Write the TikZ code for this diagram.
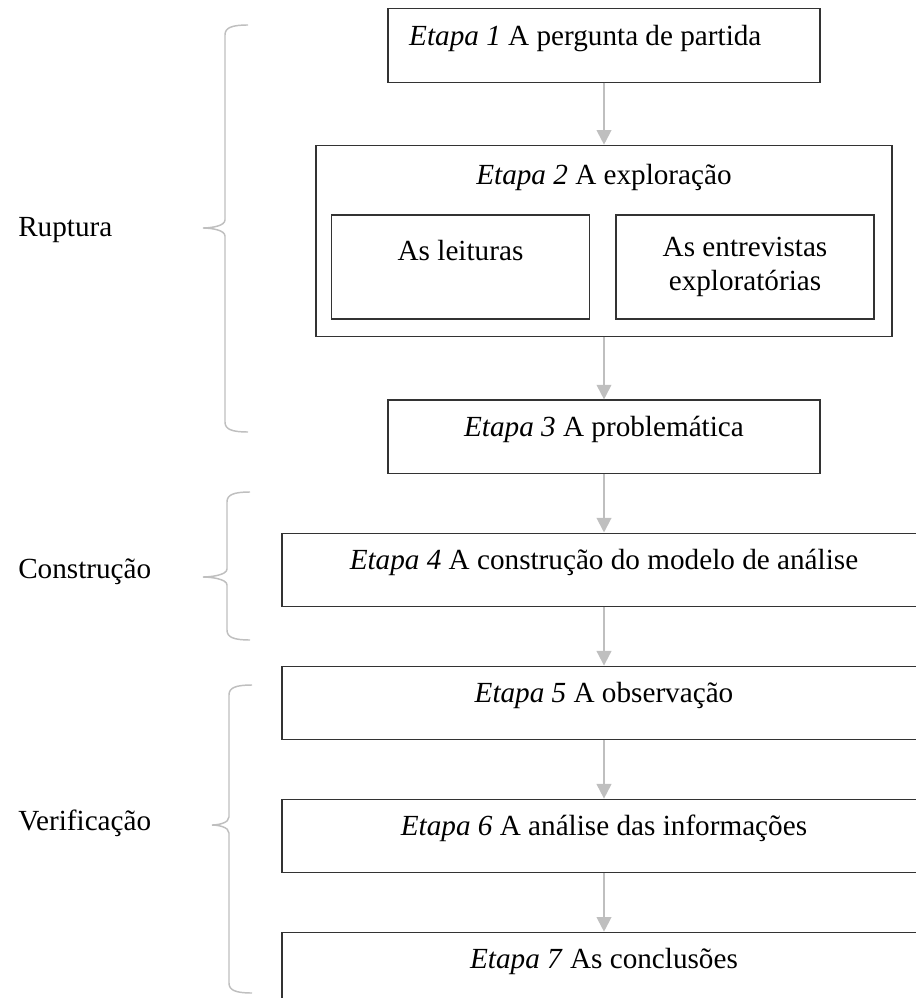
\documentclass[tikz,border=0pt]{standalone}
\usepackage{fontspec}
\setmainfont{Liberation Serif}
\usetikzlibrary{arrows.meta, positioning}

\begin{document}
\begin{tikzpicture}[
    x=0.75pt, y=-0.75pt,
    font=\fontsize{21.9}{26}\selectfont,
    node distance=44pt,
    stage/.style={rectangle, minimum width=324pt, minimum height=55pt, inner sep=0pt, text height=12pt, text depth=12pt, text centered, draw=black!80, line width=0.8pt},
    widestage/.style={stage, minimum width=483pt},
    groupbox/.style={rectangle, minimum width=432pt, minimum height=143.25pt, draw=black!80, line width=0.8pt},
    subtask/.style={rectangle, minimum width=193.5pt, minimum height=78pt, inner sep=0pt, align=center, draw=black!80, line width=0.8pt},
    phaselabel/.style={anchor=west, inner sep=0pt},
    bracket/.style={draw=black!25, line width=1.1pt},
    arrow/.style={line width=1.5pt, draw=black!25, -{Triangle[width=11pt, length=11pt]}},
]

    \path[use as bounding box, clip] (0,0) rectangle (916,998);

    % the seven stages
    \node (e1) [stage] at (604,45.5) {\textit{Etapa 1} A pergunta de partida\hspace*{28pt}};

    \node (e2) [groupbox, below=46.5pt of e1] {};
    \node (e2title) [anchor=base] at (604,185) {\textit{Etapa 2} A exploração};
    \node (leituras) [subtask, text height=15pt, text depth=24pt] at (460.5,267) {As leituras};
    \node (entrevistas) [subtask] at (745,267) {As entrevistas\\exploratórias};

    \node (e3) [stage, below=47pt of e2] {\textit{Etapa 3} A problemática};
    \node (e4) [widestage, below=of e3] {\textit{Etapa 4} A construção do modelo de análise};
    \node (e5) [widestage, below=of e4] {\textit{Etapa 5} A observação};
    \node (e6) [widestage, below=of e5] {\textit{Etapa 6} A análise das informações};
    \node (e7) [widestage, below=of e6] {\textit{Etapa 7} As conclusões};

    \draw [arrow] (e1) -- (e2);
    \draw [arrow] (e2) -- (e3);
    \draw [arrow] (e3) -- (e4);
    \draw [arrow] (e4) -- (e5);
    \draw [arrow] (e5) -- (e6);
    \draw [arrow] (e6) -- (e7);

    % phases
    \node (ruptura) [phaselabel] at (18,230) {Ruptura};
    \node (construcao) [phaselabel] at (18,572) {Construção};
    \node (verificacao) [phaselabel] at (18,823) {Verificação};

    \draw [bracket] (248,25) .. controls (231,25) and (225,28) .. (225,35)
        -- (225,220) .. controls (225,226) and (211,228) .. (203,228)
        .. controls (211,228) and (225,230) .. (225,236)
        -- (225,422) .. controls (225,429) and (231,432) .. (248,432);
    \draw [bracket] (250,492) .. controls (233,492) and (227,495) .. (227,502)
        -- (227,569) .. controls (227,575) and (211,577) .. (203,577)
        .. controls (211,577) and (227,579) .. (227,585)
        -- (227,630) .. controls (227,637) and (233,640) .. (250,640);
    \draw [bracket] (252,685) .. controls (235,685) and (229,688) .. (229,695)
        -- (229,817) .. controls (229,823) and (218,825) .. (212,825)
        .. controls (218,825) and (229,827) .. (229,833)
        -- (229,983) .. controls (229,990) and (235,993) .. (252,993);

\end{tikzpicture}
\end{document}
